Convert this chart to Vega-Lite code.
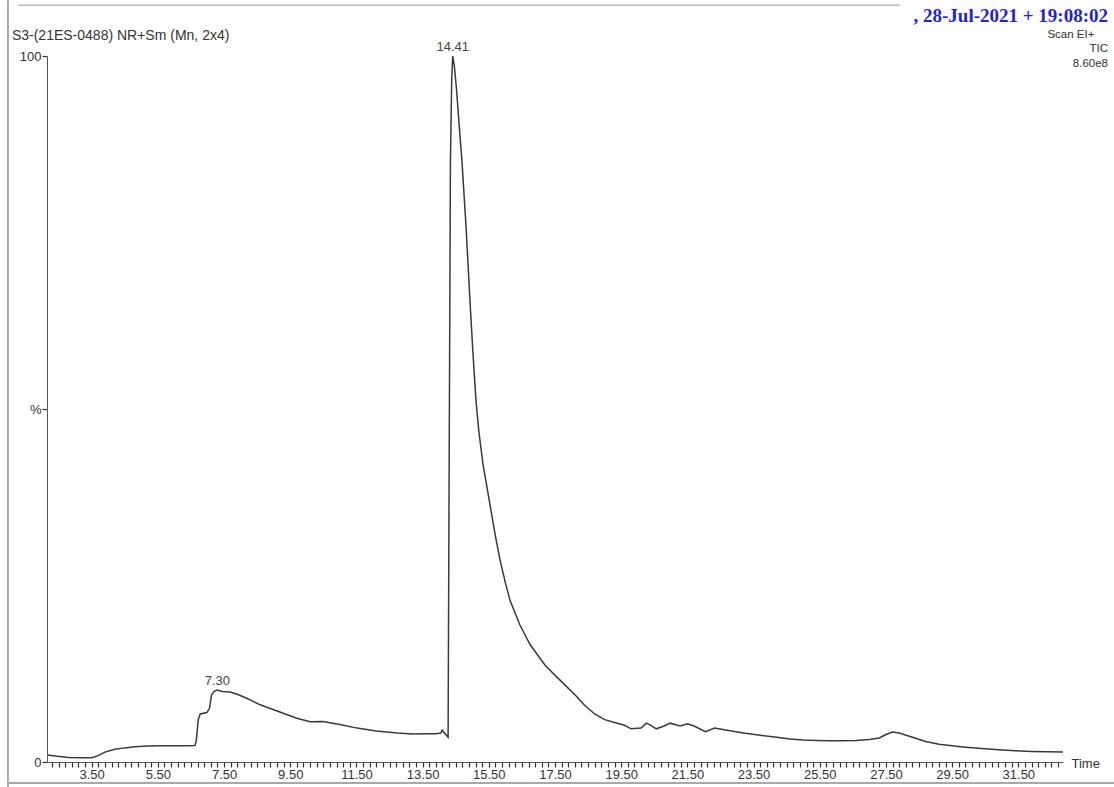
{
  "$schema": "https://vega.github.io/schema/vega-lite/v6.json",
  "width": 1016,
  "height": 706,
  "autosize": {"type": "none"},
  "padding": {"left": 47, "top": 56, "right": 51, "bottom": 25},
  "background": "white",
  "config": {"view": {"stroke": null}, "font": "Liberation Sans", "axis": {"ticks": true, "tickSize": 5, "tickColor": "#333333", "tickWidth": 1.2}},
  "datasets": {
    "tic": [
      {"t": 2.18, "v": 1.0}, {"t": 2.4, "v": 0.85}, {"t": 2.8, "v": 0.65}, {"t": 3.2, "v": 0.6}, {"t": 3.5, "v": 0.6},
      {"t": 3.7, "v": 0.9}, {"t": 3.9, "v": 1.4}, {"t": 4.2, "v": 1.8}, {"t": 4.5, "v": 2.0}, {"t": 4.8, "v": 2.15},
      {"t": 5.2, "v": 2.25}, {"t": 5.6, "v": 2.3}, {"t": 6.0, "v": 2.3}, {"t": 6.4, "v": 2.3}, {"t": 6.62, "v": 2.35},
      {"t": 6.66, "v": 3.0}, {"t": 6.72, "v": 6.0}, {"t": 6.78, "v": 6.8}, {"t": 6.98, "v": 7.0}, {"t": 7.06, "v": 7.6},
      {"t": 7.12, "v": 9.5}, {"t": 7.2, "v": 10.0}, {"t": 7.3, "v": 10.2}, {"t": 7.45, "v": 10.0}, {"t": 7.68, "v": 9.9},
      {"t": 7.9, "v": 9.6}, {"t": 8.2, "v": 9.0}, {"t": 8.59, "v": 8.1}, {"t": 9.0, "v": 7.4}, {"t": 9.29, "v": 6.9},
      {"t": 9.7, "v": 6.2}, {"t": 10.1, "v": 5.7}, {"t": 10.49, "v": 5.75}, {"t": 11.0, "v": 5.3}, {"t": 11.52, "v": 4.8},
      {"t": 12.1, "v": 4.4}, {"t": 12.73, "v": 4.1}, {"t": 13.2, "v": 3.95}, {"t": 13.63, "v": 4.0}, {"t": 13.9, "v": 4.0},
      {"t": 14.05, "v": 4.1}, {"t": 14.09, "v": 4.5}, {"t": 14.18, "v": 4.0}, {"t": 14.27, "v": 3.5}, {"t": 14.3, "v": 40},
      {"t": 14.34, "v": 85}, {"t": 14.38, "v": 97}, {"t": 14.41, "v": 100}, {"t": 14.46, "v": 98.5}, {"t": 14.52, "v": 95.5},
      {"t": 14.6, "v": 90.5}, {"t": 14.69, "v": 85.0}, {"t": 14.81, "v": 76.0}, {"t": 14.93, "v": 65.4}, {"t": 15.02, "v": 58.0},
      {"t": 15.11, "v": 51.3}, {"t": 15.2, "v": 46.8}, {"t": 15.32, "v": 42.3}, {"t": 15.53, "v": 36.6}, {"t": 15.7, "v": 32.0},
      {"t": 15.84, "v": 28.6}, {"t": 16.0, "v": 25.4}, {"t": 16.14, "v": 22.9}, {"t": 16.44, "v": 19.4}, {"t": 16.75, "v": 16.6},
      {"t": 17.2, "v": 13.7}, {"t": 17.65, "v": 11.6}, {"t": 18.11, "v": 9.5}, {"t": 18.4, "v": 8.0}, {"t": 18.7, "v": 6.8},
      {"t": 19.0, "v": 6.0}, {"t": 19.3, "v": 5.6}, {"t": 19.6, "v": 5.2}, {"t": 19.8, "v": 4.7}, {"t": 20.1, "v": 4.8},
      {"t": 20.26, "v": 5.5}, {"t": 20.4, "v": 5.2}, {"t": 20.56, "v": 4.7}, {"t": 20.8, "v": 5.1}, {"t": 20.98, "v": 5.5},
      {"t": 21.28, "v": 5.1}, {"t": 21.5, "v": 5.4}, {"t": 21.7, "v": 5.1}, {"t": 22.05, "v": 4.3}, {"t": 22.32, "v": 4.8},
      {"t": 22.7, "v": 4.5}, {"t": 23.2, "v": 4.1}, {"t": 23.7, "v": 3.8}, {"t": 24.2, "v": 3.5}, {"t": 24.6, "v": 3.25},
      {"t": 25.0, "v": 3.1}, {"t": 25.4, "v": 3.05}, {"t": 25.8, "v": 3.0}, {"t": 26.2, "v": 3.0}, {"t": 26.6, "v": 3.05},
      {"t": 27.0, "v": 3.2}, {"t": 27.3, "v": 3.4}, {"t": 27.5, "v": 3.9}, {"t": 27.7, "v": 4.25}, {"t": 27.9, "v": 4.1},
      {"t": 28.3, "v": 3.5}, {"t": 28.7, "v": 2.9}, {"t": 29.1, "v": 2.5}, {"t": 29.5, "v": 2.3}, {"t": 29.9, "v": 2.1},
      {"t": 30.4, "v": 1.9}, {"t": 30.9, "v": 1.75}, {"t": 31.4, "v": 1.6}, {"t": 31.9, "v": 1.5}, {"t": 32.4, "v": 1.45},
      {"t": 32.85, "v": 1.4}
    ],
    "peaks": [
      {"t": 7.3, "v": 10.2, "label": "7.30"},
      {"t": 14.41, "v": 100, "label": "14.41"}
    ]
  },
  "layer": [
    {
      "data": {"name": "tic"},
      "mark": {"type": "line", "color": "#3a3a3a", "strokeWidth": 1.5, "clip": false},
      "encoding": {
        "x": {
          "field": "t", "type": "quantitative",
          "scale": {"domain": [2.15, 32.85], "nice": false, "zero": false},
          "axis": {
            "values": [2.3,2.5,2.7,2.9,3.1,3.3,3.5,3.7,3.9,4.1,4.3,4.5,4.7,4.9,5.1,5.3,5.5,5.7,5.9,6.1,6.3,6.5,6.7,6.9,7.1,7.3,7.5,7.7,7.9,8.1,8.3,8.5,8.7,8.9,9.1,9.3,9.5,9.7,9.9,10.1,10.3,10.5,10.7,10.9,11.1,11.3,11.5,11.7,11.9,12.1,12.3,12.5,12.7,12.9,13.1,13.3,13.5,13.7,13.9,14.1,14.3,14.5,14.7,14.9,15.1,15.3,15.5,15.7,15.9,16.1,16.3,16.5,16.7,16.9,17.1,17.3,17.5,17.7,17.9,18.1,18.3,18.5,18.7,18.9,19.1,19.3,19.5,19.7,19.9,20.1,20.3,20.5,20.7,20.9,21.1,21.3,21.5,21.7,21.9,22.1,22.3,22.5,22.7,22.9,23.1,23.3,23.5,23.7,23.9,24.1,24.3,24.5,24.7,24.9,25.1,25.3,25.5,25.7,25.9,26.1,26.3,26.5,26.7,26.9,27.1,27.3,27.5,27.7,27.9,28.1,28.3,28.5,28.7,28.9,29.1,29.3,29.5,29.7,29.9,30.1,30.3,30.5,30.7,30.9,31.1,31.3,31.5,31.7,31.9,32.1,32.3,32.5,32.7],
            "tickCount": 400,
            "labelExpr": "(abs(datum.value - floor(datum.value) - 0.5) < 0.01 && floor(datum.value) % 2 == 1) ? format(datum.value, '.2f') : ''",
            "labelOverlap": false,
            "labelFlush": false,
            "labelBound": false,
            "labelFontSize": 13,
            "labelColor": "#333333",
            "labelPadding": 1,
            "domainColor": "#555555",
            "grid": false,
            "title": "Time",
            "titleFontSize": 13,
            "titleFontWeight": "normal",
            "titleColor": "#333333",
            "titleAnchor": "start",
            "titleAlign": "left",
            "titleBaseline": "middle",
            "titleX": 1024,
            "titleY": 1
          }
        },
        "y": {
          "field": "v", "type": "quantitative",
          "scale": {"domain": [0, 100], "nice": false},
          "axis": {
            "values": [0, 50, 100],
            "labelExpr": "datum.value == 50 ? '%' : format(datum.value, 'd')",
            "labelFontSize": 13,
            "labelColor": "#333333",
            "labelPadding": 1,
            "domainColor": "#555555",
            "grid": false,
            "title": null
          }
        }
      }
    },
    {
      "data": {"name": "peaks"},
      "mark": {"type": "text", "baseline": "bottom", "dy": -2, "fontSize": 13, "color": "#444444"},
      "encoding": {
        "x": {"field": "t", "type": "quantitative"},
        "y": {"field": "v", "type": "quantitative"},
        "text": {"field": "label"}
      }
    },
    {
      "data": {"values": [{}]},
      "mark": {"type": "text", "text": "S3-(21ES-0488) NR+Sm (Mn, 2x4)", "align": "left", "baseline": "alphabetic", "fontSize": 14, "color": "#333333"},
      "encoding": {"x": {"datum": 1.09, "type": "quantitative"}, "y": {"datum": 102.3, "type": "quantitative"}}
    },
    {
      "data": {"values": [{}]},
      "mark": {"type": "text", "text": ",  28-Jul-2021 + 19:08:02", "align": "right", "baseline": "alphabetic", "fontSize": 19, "font": "Liberation Serif", "fontWeight": "bold", "color": "#1f1fe0"},
      "encoding": {"x": {"datum": 34.21, "type": "quantitative"}, "y": {"datum": 104.8, "type": "quantitative"}}
    },
    {
      "data": {"values": [{}]},
      "mark": {"type": "text", "text": "Scan EI+", "align": "right", "baseline": "alphabetic", "fontSize": 11.5, "color": "#333333"},
      "encoding": {"x": {"datum": 33.8, "type": "quantitative"}, "y": {"datum": 102.55, "type": "quantitative"}}
    },
    {
      "data": {"values": [{}]},
      "mark": {"type": "text", "text": "TIC", "align": "right", "baseline": "alphabetic", "fontSize": 11.5, "color": "#333333"},
      "encoding": {"x": {"datum": 34.21, "type": "quantitative"}, "y": {"datum": 100.57, "type": "quantitative"}}
    },
    {
      "data": {"values": [{}]},
      "mark": {"type": "text", "text": "8.60e8", "align": "right", "baseline": "alphabetic", "fontSize": 11.5, "color": "#333333"},
      "encoding": {"x": {"datum": 34.21, "type": "quantitative"}, "y": {"datum": 98.4, "type": "quantitative"}}
    },
    {
      "data": {"values": [{}]},
      "mark": {"type": "rule", "color": "#a8a8a8", "strokeWidth": 2},
      "encoding": {"x": {"datum": 0.97, "type": "quantitative"}, "y": {"datum": 107.9, "type": "quantitative"}, "y2": {"datum": -3.5}}
    },
    {
      "data": {"values": [{}]},
      "mark": {"type": "rule", "color": "#a8a8a8", "strokeWidth": 2},
      "encoding": {"y": {"datum": -2.97, "type": "quantitative"}, "x": {"datum": 0.97, "type": "quantitative"}, "x2": {"datum": 34.39}}
    },
    {
      "data": {"values": [{}]},
      "mark": {"type": "rule", "color": "#9a9a9a", "strokeWidth": 1},
      "encoding": {"y": {"datum": 107.2, "type": "quantitative"}, "x": {"datum": 1.27, "type": "quantitative"}, "x2": {"datum": 27.93}}
    }
  ]
}
